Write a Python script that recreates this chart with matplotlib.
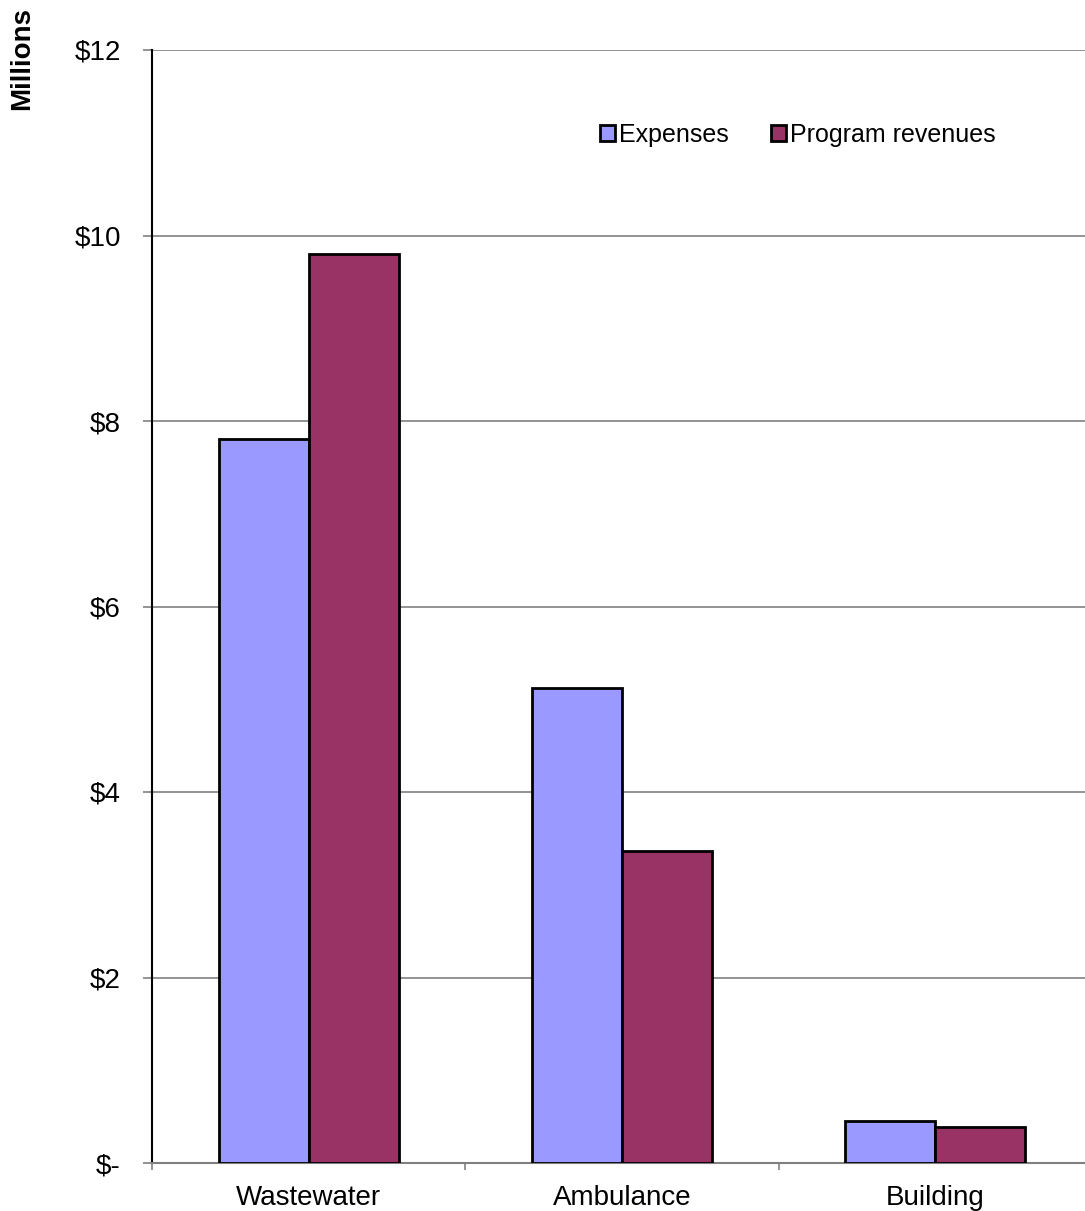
import matplotlib.pyplot as plt
import numpy as np

plt.rcParams['font.family'] = ['Liberation Sans', 'DejaVu Sans']

categories = ['Wastewater', 'Ambulance', 'Building']
expenses = [7.81, 5.12, 0.45]
revenues = [9.80, 3.36, 0.39]
yticks = [0, 2, 4, 6, 8, 10, 12]
ytick_labels = ['$-', '$2', '$4', '$6', '$8', '$10', '$12']

W, H = 1085, 1211
fig = plt.figure(figsize=(W / 100, H / 100), dpi=100)
ax = fig.add_axes([152 / W, 1 - 1163 / H, 940 / W, (1163 - 50) / H])

x = np.arange(len(categories))
w = 0.287
ax.bar(x - w / 2, expenses, w, color='#9999FF', edgecolor='black', linewidth=2,
       label='Expenses', zorder=3)
ax.bar(x + w / 2, revenues, w, color='#993366', edgecolor='black', linewidth=2,
       label='Program revenues', zorder=3)

ax.set_xlim(-0.5, 2.5)
ax.set_ylim(0, 12)
ax.set_yticks(yticks)
ax.set_yticklabels(ytick_labels, fontsize=20)
ax.set_xticks(x)
ax.set_xticklabels(categories, fontsize=20)
ax.set_xticks([-0.5, 0.5, 1.5], minor=True)
ax.tick_params(axis='x', which='major', length=0, pad=16)
ax.tick_params(axis='x', which='minor', length=5, color='#808080', width=1.2)
ax.tick_params(axis='y', length=6.5, width=1.2, pad=16, color='#808080')

ax.grid(axis='y', color='#808080', linewidth=1.2, zorder=0)
for s in ['top', 'right']:
    ax.spines[s].set_visible(False)
ax.spines['left'].set_color('black')
ax.spines['left'].set_linewidth(1.5)
ax.spines['bottom'].set_color('#808080')
ax.spines['bottom'].set_linewidth(1.5)

fig.text(22 / W, 1 - 59 / H, 'Millions', rotation=90, fontsize=20,
         fontweight='bold', ha='center', va='center')

ax.legend(loc='center', bbox_to_anchor=((798 - 152) / 940, (1163 - 135) / 1113),
          ncol=2, frameon=False, fontsize=18, handlelength=0.6, handleheight=0.6,
          handletextpad=0.15, columnspacing=1.7, borderaxespad=0, borderpad=0)

fig.savefig('out.png', dpi=100)
